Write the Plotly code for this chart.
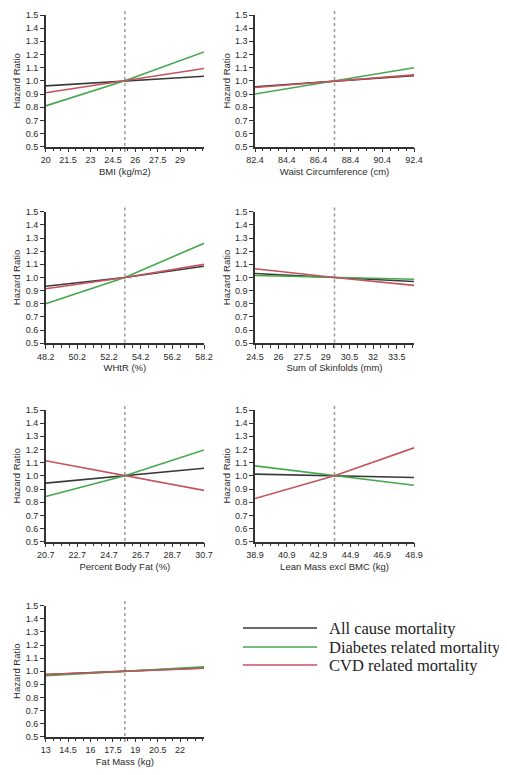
import plotly.graph_objects as go

# ---------------- data ----------------
series_names = ["All cause mortality", "Diabetes related mortality", "CVD related mortality"]
series_colors = ["#3b3b3b", "#45a84e", "#c4535e"]

panel_titles = ["BMI (kg/m2)", "Waist Circumference (cm)", "WHtR (%)",
                "Sum of Skinfolds (mm)", "Percent Body Fat (%)",
                "Lean Mass excl BMC (kg)", "Fat Mass (kg)"]

# x positions: [minimum, reference (HR = 1), maximum]
x_points = [[20, 25.3, 30.6], [82.4, 87.4, 92.4], [48.2, 53.2, 58.2],
            [24.5, 29.55, 34.6], [20.7, 25.7, 30.7], [38.9, 43.9, 48.9],
            [13, 18.3, 23.6]]

x_ticks = [[20, 21.5, 23, 24.5, 26, 27.5, 29],
           [82.4, 84.4, 86.4, 88.4, 90.4, 92.4],
           [48.2, 50.2, 52.2, 54.2, 56.2, 58.2],
           [24.5, 26, 27.5, 29, 30.5, 32, 33.5],
           [20.7, 22.7, 24.7, 26.7, 28.7, 30.7],
           [38.9, 40.9, 42.9, 44.9, 46.9, 48.9],
           [13, 14.5, 16, 17.5, 19, 20.5, 22]]

hr_all = [[0.962, 1.0, 1.035], [0.955, 1.0, 1.040], [0.934, 1.0, 1.086],
          [1.030, 1.0, 0.970], [0.945, 1.0, 1.058], [1.013, 1.0, 0.987],
          [0.975, 1.0, 1.025]]
hr_diab = [[0.810, 1.0, 1.220], [0.900, 1.0, 1.100], [0.800, 1.0, 1.260],
           [1.015, 1.0, 0.987], [0.843, 1.0, 1.197], [1.076, 1.0, 0.929],
           [0.965, 1.0, 1.033]]
hr_cvd = [[0.910, 1.0, 1.094], [0.950, 1.0, 1.045], [0.915, 1.0, 1.100],
          [1.066, 1.0, 0.940], [1.115, 1.0, 0.890], [0.828, 1.0, 1.213],
          [0.975, 1.0, 1.022]]

y_ticks = [0.5, 0.6, 0.7, 0.8, 0.9, 1.0, 1.1, 1.2, 1.3, 1.4, 1.5]

# ---------------- layout geometry ----------------
# the page body has an 8px default margin, so the figure is shrunk by 16px
OFF = 8
W, H = 507 - 2 * OFF, 775 - 2 * OFF


def px_x(p):
    return (p - OFF) / W


def px_y(p):
    return 1 - (p - OFF) / H


col_domains = [[px_x(45.7), px_x(204)], [px_x(255), px_x(414)]]
row_px = [(15, 146.7), (211.7, 343.3), (410, 541.7), (605.7, 736.7)]
row_domains = [[px_y(b), px_y(t)] for t, b in row_px]

fig = go.Figure()
tick_font = dict(family="Liberation Sans, Arial", size=9, color="#2a2a2a")
title_font = dict(family="Liberation Sans, Arial", size=9.5, color="#2a2a2a")

for i in range(len(panel_titles)):
    r, c = divmod(i, 2)
    n = i + 1
    xa = "x" if n == 1 else f"x{n}"
    ya = "y" if n == 1 else f"y{n}"
    for name, color, vals in zip(series_names, series_colors, [hr_all, hr_diab, hr_cvd]):
        fig.add_trace(go.Scatter(x=x_points[i], y=vals[i], mode="lines", name=name,
                                 line=dict(color=color, width=1.6), showlegend=False,
                                 xaxis=xa, yaxis=ya, hoverinfo="skip"))
    xkey = "xaxis" if n == 1 else f"xaxis{n}"
    ykey = "yaxis" if n == 1 else f"yaxis{n}"
    fig.layout[xkey] = dict(
        domain=col_domains[c], anchor=ya, range=[x_points[i][0], x_points[i][2]],
        tickmode="array", tickvals=x_ticks[i], ticktext=[f"{v:g}" for v in x_ticks[i]],
        showline=True, linecolor="#333333", linewidth=1.5, ticks="outside",
        ticklen=4, tickwidth=1.2, tickcolor="#333333", showgrid=False, zeroline=False,
        tickfont=tick_font,
        minor=dict(dtick=0.5, tick0=x_points[i][0], ticks="outside", ticklen=2.5,
                   tickwidth=1, tickcolor="#333333", showgrid=False),
        title=dict(text=panel_titles[i], font=title_font, standoff=4),
        automargin=False)
    fig.layout[ykey] = dict(
        domain=row_domains[r], anchor=xa, range=[0.5, 1.5],
        tickmode="array", tickvals=y_ticks, ticktext=[f"{v:.1f}" for v in y_ticks],
        showline=True, linecolor="#333333", linewidth=1.5, ticks="outside",
        ticklen=4, tickwidth=1.2, tickcolor="#333333", showgrid=False, zeroline=False,
        tickfont=tick_font,
        title=dict(text="Hazard Ratio", font=title_font, standoff=3),
        automargin=False)
    # reference (HR = 1) dotted vertical line
    fig.add_shape(type="line", xref=xa, yref=f"{ya} domain",
                  x0=x_points[i][1], x1=x_points[i][1], y0=-0.04, y1=1.053,
                  line=dict(color="#9a9a9a", width=1.5, dash="dot"), layer="below")

# manual legend
legend_rows_px = [628, 647, 665]
for name, color, ypx in zip(series_names, series_colors, legend_rows_px):
    yp = px_y(ypx)
    fig.add_shape(type="line", xref="paper", yref="paper", x0=px_x(243), x1=px_x(317),
                  y0=yp, y1=yp, line=dict(color=color, width=1.5))
    fig.add_annotation(x=px_x(328), y=yp, xref="paper", yref="paper", text=name,
                       showarrow=False, xanchor="left", yanchor="middle", borderpad=0,
                       font=dict(family="Liberation Serif, Times New Roman", size=16.5,
                                 color="#222222"))

fig.update_layout(width=W, height=H, margin=dict(l=0, r=0, t=0, b=0),
                  paper_bgcolor="white", plot_bgcolor="white", showlegend=False)

fig.write_html("out.html")
